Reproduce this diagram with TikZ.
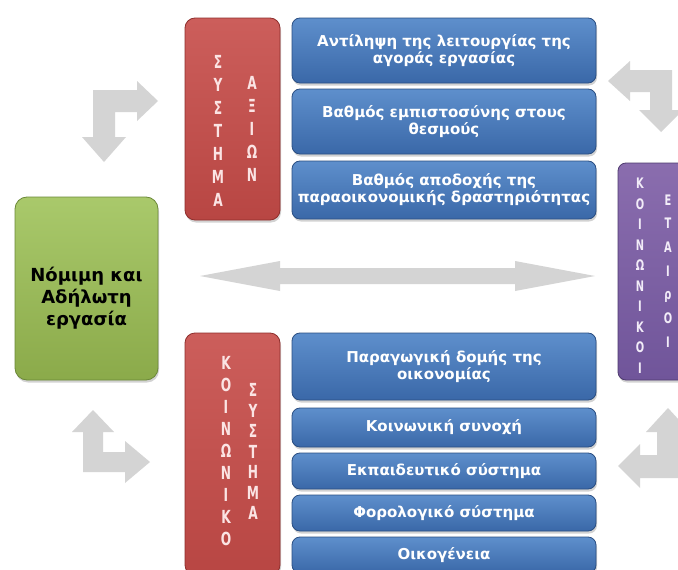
\documentclass[tikz,border=0pt]{standalone}
\usepackage{fontspec}
\setmainfont{DejaVu Sans}
\newfontfamily\boxfont{DejaVu Sans}
\newfontfamily\letterfont[FakeStretch=0.68]{DejaVu Sans Bold}
\usetikzlibrary{shadows}
\definecolor{bluetop}{HTML}{5E8FCC}
\definecolor{bluebot}{HTML}{3A68A8}
\definecolor{blueedge}{HTML}{2A4E82}
\definecolor{redtop}{HTML}{CC5E5B}
\definecolor{redbot}{HTML}{B84643}
\definecolor{rededge}{HTML}{8E2E2C}
\definecolor{greentop}{HTML}{A9C96B}
\definecolor{greenbot}{HTML}{8BAA4A}
\definecolor{greenedge}{HTML}{6B8838}
\definecolor{purptop}{HTML}{8A6DAE}
\definecolor{purpbot}{HTML}{70559A}
\definecolor{purpedge}{HTML}{4E3A6E}
\definecolor{arrowgrey}{HTML}{D4D4D4}
\definecolor{redletter}{HTML}{FBE4E4}
\definecolor{purpletter}{HTML}{F2ECF8}
\tikzset{
  boxbase/.style={rounded corners=8pt, line width=0.8pt, inner sep=0pt, align=center,
    drop shadow={opacity=0.35, shadow xshift=1pt, shadow yshift=-2.5pt}},
  bluebox/.style={boxbase, draw=blueedge, top color=bluetop, bottom color=bluebot,
    text=white, minimum width=304pt, font=\boxfont\bfseries\fontsize{15}{17}\selectfont},
  redbox/.style={boxbase, draw=rededge, top color=redtop, bottom color=redbot,
    minimum width=95pt, rounded corners=10pt},
  greenbox/.style={boxbase, draw=greenedge, top color=greentop, bottom color=greenbot,
    minimum width=143pt, minimum height=183pt, rounded corners=12pt},
  purpbox/.style={boxbase, draw=purpedge, top color=purptop, bottom color=purpbot,
    minimum width=74pt, minimum height=217pt},
  redletters/.style={inner sep=0pt, align=center, text=redletter,
    font=\letterfont\fontsize{18}{#1}\selectfont},
  purpletters/.style={inner sep=0pt, align=center, text=purpletter,
    font=\letterfont\fontsize{14.5}{#1}\selectfont},
  greyarrow/.style={fill=arrowgrey, draw=none},
}
\begin{document}
\begin{tikzpicture}[x=1pt,y=-1pt]
\useasboundingbox (0,0) rectangle (678,570);
\fill[white] (0,0) rectangle (678,570);

% grey arrows
\fill[greyarrow] (200,276) -- (280,261) -- (280,268) -- (515,268) -- (515,261) -- (595,276)
  -- (515,291) -- (515,284) -- (280,284) -- (280,291) -- cycle;
\fill[greyarrow] (93,90) -- (137,90) -- (137,81) -- (158,101) -- (137,121) -- (137,112)
  -- (115,112) -- (115,137) -- (126,137) -- (104,162) -- (82,137) -- (93,137) -- cycle;
\fill[greyarrow] (672,70) -- (630,70) -- (630,61) -- (608,81) -- (630,101) -- (630,92)
  -- (650,92) -- (650,110) -- (639,110) -- (661,132) -- (683,110) -- (672,110) -- cycle;
\fill[greyarrow] (83,472) -- (83,432) -- (72,432) -- (93,410) -- (114,432) -- (103,432)
  -- (103,452) -- (125,452) -- (125,441) -- (150,462) -- (125,483) -- (125,472) -- cycle;
\fill[greyarrow] (679,478) -- (679,432) -- (690,432) -- (668,408) -- (646,432) -- (657,432)
  -- (657,455) -- (640,455) -- (640,444) -- (618,466) -- (640,488) -- (640,478) -- cycle;

% green box
\node[greenbox] (green) at (86.5,288.5) {};
\node[inner sep=0pt, align=center, text=black, font=\boxfont\bfseries\fontsize{18}{22}\selectfont]
  (greentext) at (86.5,298) {Νόμιμη και\\Αδήλωτη\\εργασία};

% top red box
\node[redbox, minimum height=202pt] (redA) at (232.5,119) {};
\node[redletters=23] (colA1) at (218,131) {Σ\\Υ\\Σ\\Τ\\Η\\Μ\\Α};
\node[redletters=23] (colA2) at (252,129) {Α\\Ξ\\Ι\\Ω\\Ν};

% top blue boxes
\node[bluebox, minimum height=65pt] (b1) at (444,50.5) {Αντίληψη της λειτουργίας της\\αγοράς εργασίας};
\node[bluebox, minimum height=65pt] (b2) at (444,121.5) {Βαθμός εμπιστοσύνης στους\\θεσμούς};
\node[bluebox, minimum height=58pt] (b3) at (444,190) {Βαθμός αποδοχής της\\παραοικονομικής δραστηριότητας};

% purple box
\node[purpbox] (purp) at (655,271.5) {};
\node[purpletters=20.5] (colP1) at (640,275.5) {Κ\\Ο\\Ι\\Ν\\Ω\\Ν\\Ι\\Κ\\Ο\\Ι};
\node[purpletters=23.7] (colP2) at (668,271) {Ε\\Τ\\Α\\Ι\\ρ\\Ο\\Ι};

% bottom red box
\node[redbox, minimum height=242pt] (redB) at (232.5,454) {};
\node[redletters=22] (colB1) at (226,451) {Κ\\Ο\\Ι\\Ν\\Ω\\Ν\\Ι\\Κ\\Ο};
\node[redletters=20.5] (colB2) at (253,451.5) {Σ\\Υ\\Σ\\Τ\\Η\\Μ\\Α};

% bottom blue boxes
\node[bluebox, minimum height=67pt] (c1) at (444,366.5) {Παραγωγική δομής της\\οικονομίας};
\node[bluebox, minimum height=39pt] (c2) at (444,427.5) {Κοινωνική συνοχή};
\node[bluebox, minimum height=36pt] (c3) at (444,471) {Εκπαιδευτικό σύστημα};
\node[bluebox, minimum height=36pt] (c4) at (444,513) {Φορολογικό σύστημα};
\node[bluebox, minimum height=36pt] (c5) at (444,555) {Οικογένεια};
\end{tikzpicture}
\end{document}
